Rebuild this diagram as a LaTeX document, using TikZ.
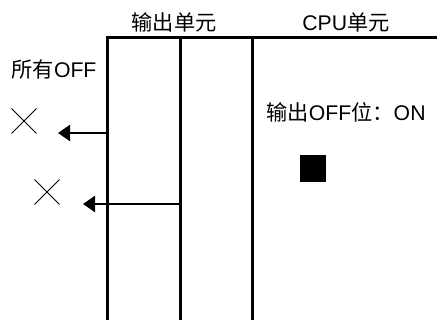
\documentclass[tikz,border=0pt]{standalone}
\usepackage{fontspec}
\setmainfont{Liberation Sans}
\newfontfamily\cjk{Noto Sans CJK SC}
\usetikzlibrary{arrows.meta, shapes.misc}

\begin{document}
\begin{tikzpicture}[
        x=1bp, y=-1bp,
        etiqueta/.style={
            inner sep=0pt,
            font=\fontsize{21.3}{25}\selectfont
        },
        marco/.style={line width=3bp, draw=black},
        cruz/.style={
            cross out,
            draw=black,
            line width=0.9bp,
            minimum size=24bp,
            inner sep=0pt
        },
        bit/.style={
            rectangle,
            fill=black,
            minimum width=26bp,
            minimum height=27bp,
            inner sep=0pt
        },
        flecha/.style={-{Triangle[length=12bp, width=16bp]}, line width=2.2bp, draw=black}
    ]
        \useasboundingbox (0,0) rectangle (437,320);

        % unidades
        \draw[marco] (107,320) -- (107,37) -- (437,37);
        \draw[marco] (180,37) -- (180,320);
        \draw[marco] (252,37) -- (252,320);

        \node[etiqueta] (salida) at (174,22) {{\cjk 输出单元}};
        \node[etiqueta] (cpu) at (346,22) {CPU{\cjk 单元}};
        \node[etiqueta] (todos) at (54,69) {{\cjk 所有}OFF};
        \node[etiqueta] (bitoff) at (346,112) {{\cjk 输出}OFF{\cjk 位：}ON};

        \node[bit] (cuadro) at (313,168) {};

        \node[cruz] (cruz1) at (24,121) {};
        \node[cruz] (cruz2) at (47,192) {};

        \coordinate (toma1) at (107,133);
        \coordinate (punta1) at (58,133);
        \coordinate (toma2) at (180,204);
        \coordinate (punta2) at (83,204);

        \draw[flecha] (toma1) -- (punta1);
        \draw[flecha] (toma2) -- (punta2);
    \end{tikzpicture}
\end{document}
